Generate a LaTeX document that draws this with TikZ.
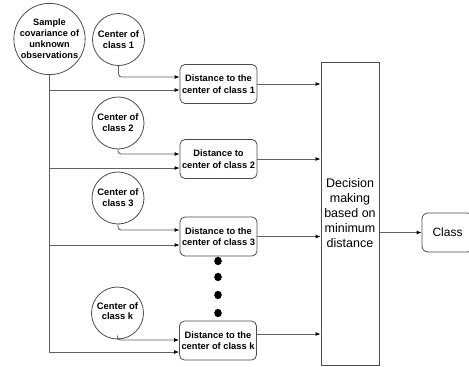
\documentclass[tikz,border=0pt]{standalone}
\usepackage{fontspec}
\setmainfont{Liberation Sans}
\usetikzlibrary{arrows.meta}
\begin{document}
\begin{tikzpicture}[x=1pt,y=-1pt,
  ln/.style={draw=black!62, line width=0.9pt},
  arr/.style={ln, -{Latex[length=5pt,width=4pt,color=black]}},
  circ/.style={circle, draw=black!70, line width=0.8pt, inner sep=0pt, minimum size=52pt, align=center, font=\fontsize{9.4}{11}\selectfont\bfseries},
  dbox/.style={rectangle, rounded corners=5pt, draw=black!70, line width=0.8pt, minimum width=77pt, minimum height=39pt, inner sep=0pt, align=center, font=\fontsize{9.3}{11.5}\selectfont\bfseries},
  plainbox/.style={rectangle, draw=black!70, line width=0.8pt, inner sep=0pt, align=center, font=\fontsize{12.5}{15}\selectfont},
]
\useasboundingbox (0,0) rectangle (469,367);

% input circle
\node[circ, minimum size=71pt, font=\fontsize{9.2}{11}\selectfont\bfseries] (s) at (49.5,39) {Sample\\covariance of\\unknown\\observations};

% class centers
\node[circ] (c1) at (118.5,39.5) {Center of\\class 1};
\node[circ] (c2) at (118,123) {Center of\\class 2};
\node[circ] (c3) at (118,198) {Center of\\class 3};
\node[circ] (ck) at (117.5,313) {\raisebox{3pt}{\shortstack{Center of\\class k}}};

% distance boxes
\node[dbox] (b1) at (218.5,84) {Distance to the\\center of class 1};
\node[dbox] (b2) at (218.5,159) {Distance to\\center of class 2};
\node[dbox] (b3) at (218.5,236.5) {Distance to the\\center of class 3};
\node[dbox] (bk) at (218,340.5) {Distance to the\\center of class k};

% decision and output
\node[plainbox, minimum width=58pt, minimum height=303pt] (d) at (350,213.5) {Decision\\making\\based on\\minimum\\distance};
\node[plainbox, rounded corners=6pt, minimum width=51pt, minimum height=39pt, font=\fontsize{12}{14}\selectfont] (cl) at (447.5,232.5) {Class};

% dots
\fill (218,261) ellipse (3.8 and 4.2);
\fill (218,277) ellipse (3.8 and 4.2);
\fill (218,295) ellipse (3.8 and 4.2);
\fill (218,313) ellipse (3.8 and 4.2);

% centers to boxes
\draw[arr, rounded corners=3pt] (c1.south) |- ([yshift=7pt]b1.west);
\draw[arr, rounded corners=3pt] (c2.south) |- ([yshift=5pt]b2.west);
\draw[arr, rounded corners=3pt] (c3.south) |- ([yshift=6.5pt]b3.west);
\draw[arr, rounded corners=3pt] (ck.south) |- ([yshift=0.5pt]bk.west);

% sample to boxes
\draw[arr] (s.south) |- ([yshift=-6pt]b1.west);
\draw[arr] (s.south) |- ([yshift=-9pt]b2.west);
\draw[arr] (s.south) |- ([yshift=-8.5pt]b3.west);
\draw[arr] (s.south) |- ([yshift=-11.5pt]bk.west);

% boxes to decision
\draw[arr] (b1.east) -- (d.west |- b1.east);
\draw[arr] (b2.east) -- (d.west |- b2.east);
\draw[arr] (b3.east) -- (d.west |- b3.east);
\coordinate (bko) at ([yshift=6.5pt]bk.east);
\draw[arr] (bko) -- (d.west |- bko);

% decision to class
\draw[arr] (d.east |- cl.west) -- (cl.west);
\end{tikzpicture}
\end{document}
